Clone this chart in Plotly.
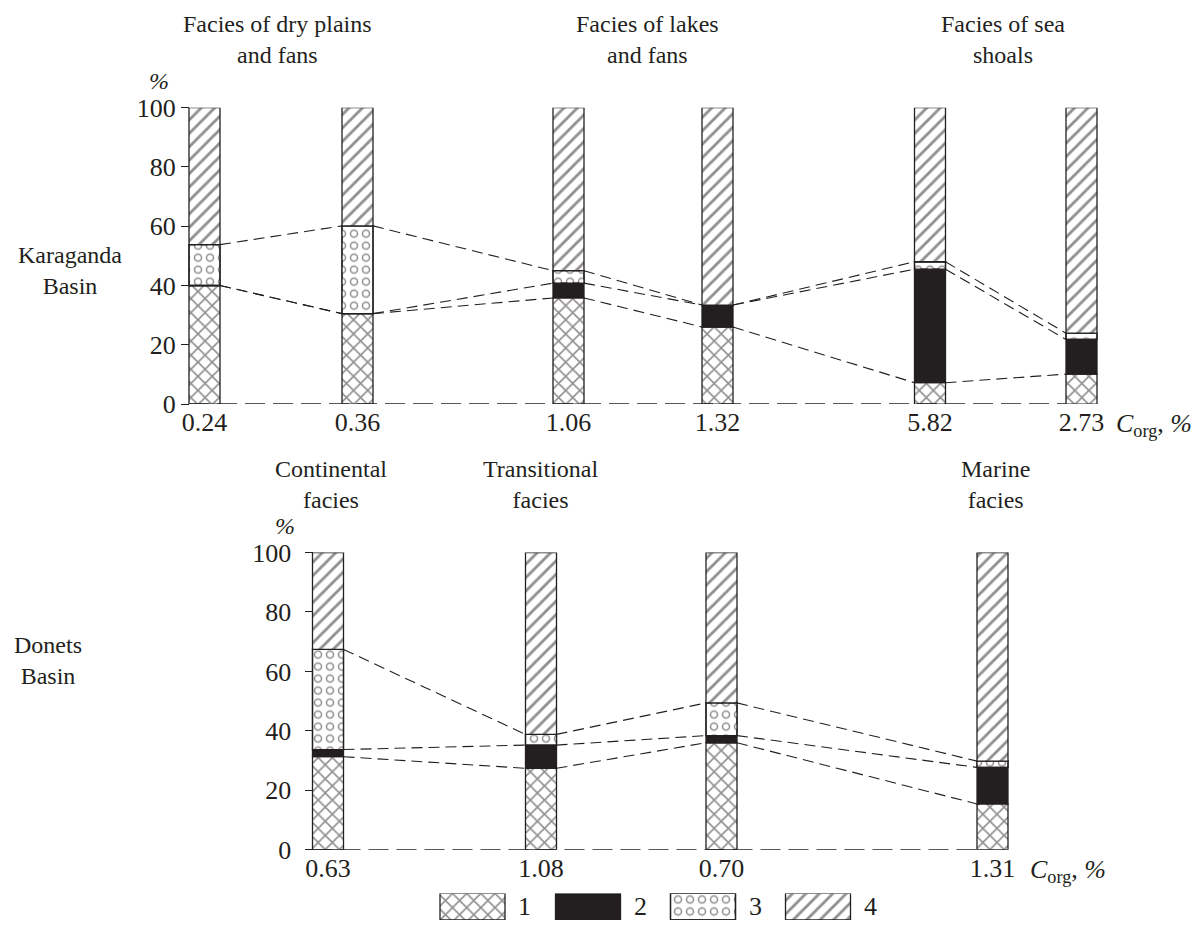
import numpy as np
import plotly.graph_objects as go

# ---------------- data ----------------
# Karaganda Basin: components (%) of each sample, bottom to top
kar_corg = ["0.24", "0.36", "1.06", "1.32", "5.82", "2.73"]
kar_c1 = [40.0, 30.5, 35.8, 26.0, 7.2, 10.1]
kar_c2 = [0.0, 0.0, 5.0, 7.4, 38.3, 11.7]
kar_c3 = [13.8, 29.6, 4.2, 0.0, 2.5, 2.1]
kar_c4 = [46.2, 39.9, 55.0, 66.6, 52.0, 76.1]

# Donets Basin
don_corg = ["0.63", "1.08", "0.70", "1.31"]
don_c1 = [31.3, 27.4, 36.0, 15.4]
don_c2 = [2.4, 7.8, 2.4, 12.3]
don_c3 = [33.7, 3.6, 11.0, 2.1]
don_c4 = [32.6, 61.2, 50.6, 70.2]

kar_groups = ["Facies of dry plains<br>and fans", "Facies of lakes<br>and fans",
              "Facies of sea<br>shoals"]
don_groups = ["Continental<br>facies", "Transitional<br>facies", "Marine<br>facies"]
basin_labels = ["Karaganda<br>Basin", "Donets<br>Basin"]
legend_labels = ["1", "2", "3", "4"]

# ---------------- layout constants ----------------
W, H = 1195, 935
# the captured picture maps figure y to picture y as  y_pic = VS * y_fig + VOFF
VS, VOFF = 0.9676, 14.5


def fy(y_pic):
    """figure-pixel y (from top) for a wanted picture-pixel y"""
    return (y_pic - VOFF) / VS


def py(y_pic):
    """paper fraction for a wanted picture-pixel y"""
    return 1 - fy(y_pic) / H


KAR_X = [204.5, 357.5, 568.5, 717.5, 930, 1081.5]
DON_X = [328, 541, 721.5, 992.5]
BAR_W = 31
LEG_X = [472.5, 588, 703, 818]
LEG_W = 65
KAR_DOM = [py(404), py(108)]
DON_DOM = [py(849), py(552.3)]
LEG_DOM = [0.0, 26.5 / VS / H]

INK = "#231f20"
FONT = "Liberation Serif, Times New Roman, serif"
FS = 26      # tick labels and single-line texts
FS2 = 24     # two-line labels

LINE = dict(color=INK, width=1.3)
STYLES = [
    dict(color="white", line=LINE,
         pattern=dict(shape="x", fgcolor=INK, bgcolor="white", size=10, solidity=0.3)),
    dict(color=INK, line=LINE),
    dict(color="white", line=LINE,
         pattern=dict(shape=".", fgcolor=INK, bgcolor="white", size=12, solidity=0.40)),
    dict(color="white", line=LINE,
         pattern=dict(shape="/", fgcolor=INK, bgcolor="white", size=9.5, solidity=0.3)),
]
RING_HOLE = dict(color="rgba(255,255,255,0)", line=LINE,
                 pattern=dict(shape=".", fgcolor="#ffffff", bgcolor="rgba(255,255,255,0)",
                              size=12, solidity=0.17, fillmode="replace"))

fig = go.Figure()


def add_stack(xpos, comps, xa, ya, width):
    comps = [np.asarray(c, dtype=float) for c in comps]
    base = np.zeros_like(comps[0])
    for k, c in enumerate(comps):
        fig.add_trace(go.Bar(x=xpos, y=c, base=base.copy(), width=width,
                             marker=STYLES[k], xaxis=xa, yaxis=ya,
                             showlegend=False, hoverinfo="skip"))
        if k == 2:
            fig.add_trace(go.Bar(x=xpos, y=c, base=base.copy(), width=width,
                                 marker=RING_HOLE, xaxis=xa, yaxis=ya,
                                 showlegend=False, hoverinfo="skip"))
        base = base + c
    return comps


def add_links(xpos, comps, xa, ya):
    cum = np.cumsum(np.vstack(comps[:3]), axis=0)
    for lvl in range(3):
        xs, ys = [], []
        for i in range(len(xpos) - 1):
            xs += [xpos[i] + BAR_W / 2, xpos[i + 1] - BAR_W / 2, None]
            ys += [cum[lvl][i], cum[lvl][i + 1], None]
        fig.add_trace(go.Scatter(x=xs, y=ys, mode="lines", xaxis=xa, yaxis=ya,
                                 line=dict(color=INK, width=1.1, dash="11px,6px"),
                                 showlegend=False, hoverinfo="skip"))
    # dashed baseline
    fig.add_trace(go.Scatter(x=[xpos[0] - BAR_W / 2, xpos[-1] - BAR_W / 2], y=[0, 0],
                             mode="lines", xaxis=xa, yaxis=ya,
                             line=dict(color=INK, width=1.4, dash="20px,8px"),
                             showlegend=False, hoverinfo="skip"))


kc = add_stack(KAR_X, [kar_c1, kar_c2, kar_c3, kar_c4], "x", "y", BAR_W)
add_links(KAR_X, kc, "x", "y")
dc = add_stack(DON_X, [don_c1, don_c2, don_c3, don_c4], "x2", "y2", BAR_W)
add_links(DON_X, dc, "x2", "y2")

# legend boxes
for k in range(4):
    fig.add_trace(go.Bar(x=[LEG_X[k]], y=[1], base=[0], width=LEG_W, marker=STYLES[k],
                         xaxis="x3", yaxis="y3", showlegend=False, hoverinfo="skip"))
    if k == 2:
        fig.add_trace(go.Bar(x=[LEG_X[k]], y=[1], base=[0], width=LEG_W, marker=RING_HOLE,
                             xaxis="x3", yaxis="y3", showlegend=False, hoverinfo="skip"))

xbase = dict(range=[0, W], domain=[0, 1], showgrid=False, zeroline=False, showline=False,
             ticks="", tickfont=dict(family=FONT, size=FS, color=INK), fixedrange=True)
ybase = dict(range=[0, 100], tickvals=[0, 20, 40, 60, 80, 100], showgrid=False,
             zeroline=False, showline=False, ticks="outside", ticklen=8, tickwidth=1.3,
             tickcolor=INK, tickfont=dict(family=FONT, size=FS, color=INK), anchor="free",
             fixedrange=True)

fig.update_layout(
    width=W, height=H, margin=dict(l=0, r=0, t=0, b=0, pad=0), autosize=False,
    paper_bgcolor="white", plot_bgcolor="rgba(0,0,0,0)", barmode="overlay",
    font=dict(family=FONT, size=FS, color=INK),
    xaxis=dict(xbase, anchor="y", tickvals=KAR_X, ticktext=kar_corg),
    yaxis=dict(ybase, domain=KAR_DOM, position=(KAR_X[0] - BAR_W / 2) / W,
               ticklabelstandoff=0),
    xaxis2=dict(xbase, anchor="y2", tickvals=DON_X, ticktext=don_corg),
    yaxis2=dict(ybase, domain=DON_DOM, position=(DON_X[0] - BAR_W / 2) / W,
                ticklabelstandoff=8),
    xaxis3=dict(range=[0, W], domain=[0, 1], visible=False, anchor="y3", fixedrange=True),
    yaxis3=dict(range=[0, 1], domain=LEG_DOM, visible=False, anchor="x3", fixedrange=True),
)

ann = []


def txt(x, y, text, xanchor="center", xref="paper", yref="paper", size=FS):
    ann.append(dict(x=x, y=y, xref=xref, yref=yref, text=text, showarrow=False,
                    xanchor=xanchor, yanchor="middle", align="center",
                    font=dict(family=FONT, size=size, color=INK)))


# group titles (two lines each)
for t, cx in zip(kar_groups, [277, 648, 1003]):
    txt(cx / W, py(40), t, size=FS2)
for t, cx in zip(don_groups, [331, 540, 995]):
    txt(cx / W, py(484), t, size=FS2)
# basin labels
txt(70 / W, py(271), basin_labels[0], size=FS2)
txt(48 / W, py(660), basin_labels[1], size=FS2)
# percent labels
txt(159 / W, py(81), "<i>%</i>", size=FS2)
txt(285 / W, py(526), "<i>%</i>", size=FS2)
# C_org labels
txt(1114 / W, py(425), "<i>C</i><sub>org</sub>, <i>%</i>", xanchor="left")
txt(1028 / W, py(870), "<i>C</i><sub>org</sub>, <i>%</i>", xanchor="left")
# legend labels
for k, lab in enumerate(legend_labels):
    txt(LEG_X[k] + LEG_W / 2 + 11, 0.5, lab, xanchor="left", xref="x3", yref="y3")

fig.update_layout(annotations=ann)

page_css = ("document.documentElement.style.margin='0';"
            "document.documentElement.style.padding='0';"
            "document.documentElement.style.overflow='hidden';"
            "document.body.style.margin='0';"
            "document.body.style.padding='0';"
            "document.body.style.overflow='hidden';")
fig.write_html("out.html", post_script=page_css)
